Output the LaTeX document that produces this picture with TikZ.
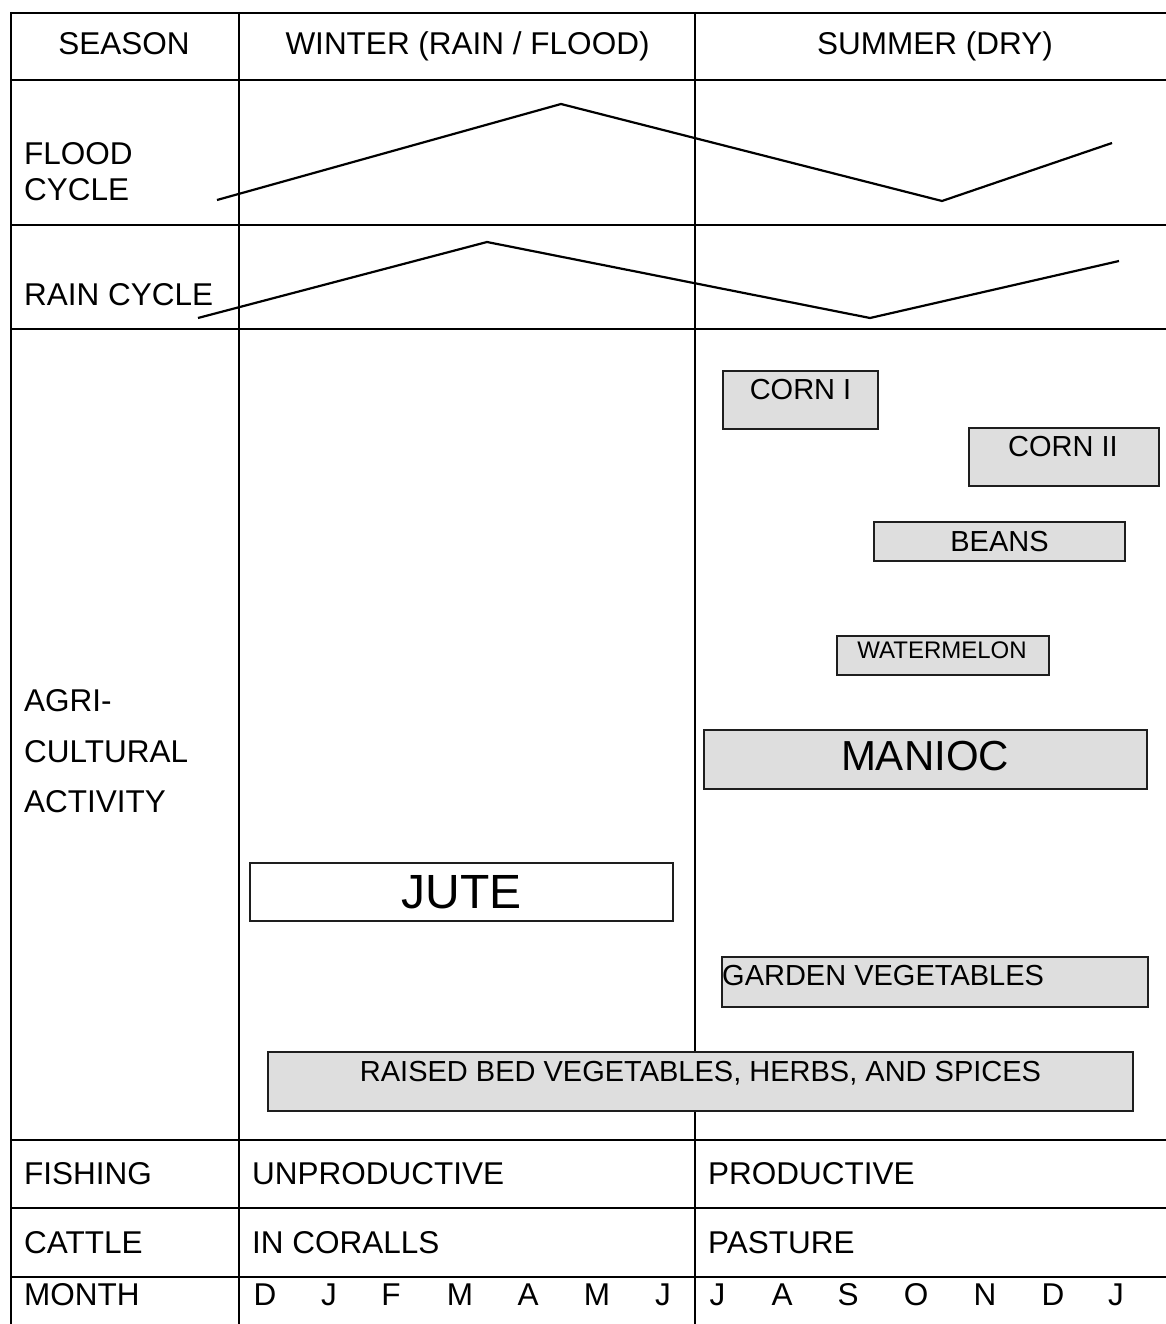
\documentclass[tikz,border=0pt]{standalone}
\usepackage{fontspec}
\setmainfont{Liberation Sans}
\definecolor{boxgray}{RGB}{222,222,222}
\definecolor{boxline}{RGB}{30,30,30}
\begin{document}
\begin{tikzpicture}[x=1pt,y=-1pt,
  gridline/.style={line width=2pt, black},
  cycleline/.style={line width=2.2pt, black, line join=miter},
  lbl/.style={inner sep=0pt, anchor=base west, font=\fontsize{31.5}{36}\selectfont},
  ctr/.style={inner sep=0pt, anchor=base, font=\fontsize{31.5}{36}\selectfont},
  cropbox/.style={draw=boxline, line width=1.7pt, fill=boxgray, inner sep=0pt},
  whitebox/.style={draw=boxline, line width=1.2pt, fill=white, inner sep=0pt},
  croptext/.style={inner sep=0pt, anchor=base, font=\fontsize{#1}{#1}\selectfont}
]
\useasboundingbox (0,0) rectangle (1165,1324);

% grid
\draw[gridline] (11,13) -- (1175,13);
\draw[gridline] (11,80) -- (1175,80);
\draw[gridline] (11,225) -- (1175,225);
\draw[gridline] (11,329) -- (1175,329);
\draw[gridline] (11,1140) -- (1175,1140);
\draw[gridline] (11,1208) -- (1175,1208);
\draw[gridline] (11,1277) -- (1175,1277);
\draw[gridline] (11,12) -- (11,1330);
\draw[gridline] (239,12) -- (239,1330);
\draw[gridline] (695,12) -- (695,1330);

% header
\node[ctr] (season) at (124,55) {SEASON};
\node[ctr] (winter) at (467.5,55) {WINTER (RAIN / FLOOD)};
\node[ctr] (summer) at (935,55) {SUMMER (DRY)};

% row labels
\node[lbl] (flood1) at (24,165) {FLOOD};
\node[lbl] (flood2) at (24,201) {CYCLE};
\node[lbl] (rain) at (24,305) {RAIN CYCLE};
\node[lbl] (agri1) at (24,711) {AGRI-};
\node[lbl] (agri2) at (24,762) {CULTURAL};
\node[lbl] (agri3) at (24,812) {ACTIVITY};
\node[lbl] (fishing) at (24,1184) {FISHING};
\node[lbl] (cattle) at (24,1253) {CATTLE};
\node[lbl] (month) at (24,1305) {MONTH};

\node[lbl] (unprod) at (252,1184) {UNPRODUCTIVE};
\node[lbl] (prod) at (708,1184) {PRODUCTIVE};
\node[lbl] (corall) at (252,1253) {IN CORALLS};
\node[lbl] (pasture) at (708,1253) {PASTURE};

% months
\node[ctr] (m1) at (265,1305) {D};
\node[ctr] (m2) at (329,1305) {J};
\node[ctr] (m3) at (391,1305) {F};
\node[ctr] (m4) at (460,1305) {M};
\node[ctr] (m5) at (528,1305) {A};
\node[ctr] (m6) at (597,1305) {M};
\node[ctr] (m7) at (663,1305) {J};
\node[ctr] (m8) at (717.5,1305) {J};
\node[ctr] (m9) at (782,1305) {A};
\node[ctr] (m10) at (848,1305) {S};
\node[ctr] (m11) at (916,1305) {O};
\node[ctr] (m12) at (985,1305) {N};
\node[ctr] (m13) at (1053,1305) {D};
\node[ctr] (m14) at (1116,1305) {J};

% cycles
\coordinate (f1) at (217,200);
\coordinate (f2) at (561,104);
\coordinate (f3) at (942,201);
\coordinate (f4) at (1112,143);
\draw[cycleline] (f1) -- (f2) -- (f3) -- (f4);
\coordinate (r1) at (198,318);
\coordinate (r2) at (487,242);
\coordinate (r3) at (870,318);
\coordinate (r4) at (1119,261);
\draw[cycleline] (r1) -- (r2) -- (r3) -- (r4);

% crop boxes
\node[cropbox, minimum width=155pt, minimum height=58pt] (corn1) at (800.5,400) {};
\node[croptext=29] (corn1t) at (800.5,399) {CORN I};
\node[cropbox, minimum width=190pt, minimum height=58pt] (corn2) at (1064,457) {};
\node[croptext=29] (corn2t) at (1063,456) {CORN II};
\node[cropbox, minimum width=251pt, minimum height=39pt] (beans) at (999.5,541.5) {};
\node[croptext=29] (beanst) at (999.5,551) {BEANS};
\node[cropbox, minimum width=212pt, minimum height=39pt] (melon) at (943,655.5) {};
\node[croptext=24] (melont) at (942,658) {WATERMELON};
\node[cropbox, minimum width=443pt, minimum height=59pt] (manioc) at (925.5,759.5) {};
\node[croptext=42] (maniott) at (925,770) {MANIOC};
\node[whitebox, minimum width=423pt, minimum height=58pt] (jute) at (461.5,892) {};
\node[croptext=48] (jutet) at (461.5,908) {JUTE};
\node[cropbox, minimum width=426pt, minimum height=50pt] (garden) at (935,982) {};
\node[inner sep=0pt, anchor=base west, font=\fontsize{29}{29}\selectfont] (gardent) at (722,985) {GARDEN VEGETABLES};
\node[cropbox, minimum width=865pt, minimum height=59pt] (raised) at (700.5,1081.5) {};
\node[croptext=29] (raisedt) at (700.5,1081) {RAISED BED VEGETABLES, HERBS, AND SPICES};
\end{tikzpicture}
\end{document}
